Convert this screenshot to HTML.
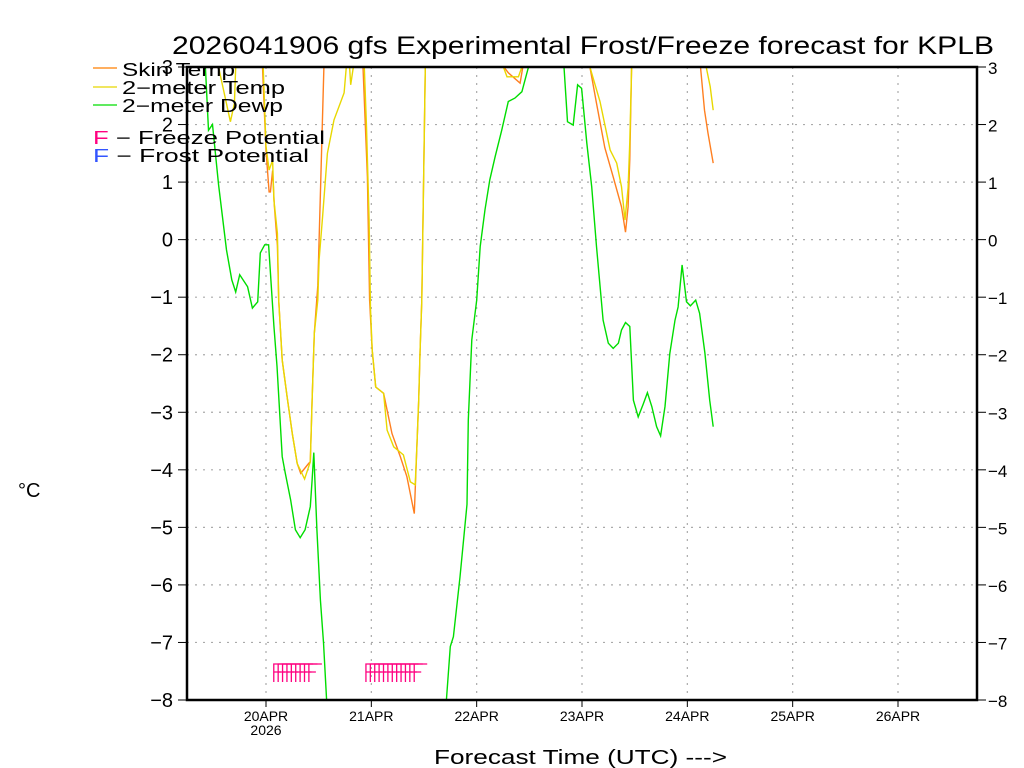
<!DOCTYPE html>
<html><head><meta charset="utf-8"><style>
html,body{margin:0;padding:0;background:#fff;overflow:hidden;width:1024px;height:768px;}
svg{display:block;font-family:"Liberation Sans",sans-serif;}
</style></head><body>
<svg id="chart" width="1024" height="768" viewBox="0 0 1024 768" xmlns="http://www.w3.org/2000/svg">
<defs><clipPath id="plotclip"><rect x="187" y="67" width="790" height="633"/></clipPath></defs>
<text x="172" y="54" font-size="25" textLength="822" lengthAdjust="spacingAndGlyphs">2026041906 gfs Experimental Frost/Freeze forecast for KPLB</text>
<g id="grid"></g>
<g id="series" clip-path="url(#plotclip)"></g>
<g id="freeze"></g>
<g id="axes"></g>
<text x="18" y="497" font-size="20">°C</text>
<text x="434" y="764" font-size="20" textLength="293" lengthAdjust="spacingAndGlyphs">Forecast Time (UTC) ---&gt;</text>
<g font-size="18">
<line x1="93" y1="68" x2="117" y2="68" stroke="#ff7f00" stroke-width="1.3"/>
<text x="122" y="76" textLength="113" lengthAdjust="spacingAndGlyphs">Skin Temp</text>
<line x1="93" y1="87" x2="117" y2="87" stroke="#e8d800" stroke-width="1.3"/>
<text x="122" y="94" textLength="163" lengthAdjust="spacingAndGlyphs">2−meter Temp</text>
<line x1="93" y1="105" x2="117" y2="105" stroke="#00dd00" stroke-width="1.3"/>
<text x="122" y="112" textLength="161" lengthAdjust="spacingAndGlyphs">2−meter Dewp</text>
<text x="93" y="144" textLength="232" lengthAdjust="spacingAndGlyphs"><tspan fill="#ff0080">F</tspan> − Freeze Potential</text>
<text x="93" y="162" textLength="216" lengthAdjust="spacingAndGlyphs"><tspan fill="#3355ff">F</tspan> − Frost Potential</text>
</g>
</svg>
<script>
const yTicks=[3,2,1,0,-1,-2,-3,-4,-5,-6,-7,-8];
const dayLabels=["20APR","21APR","22APR","23APR","24APR","25APR","26APR"];
const dayHours=[24,48,72,96,120,144,168];
const dewHours=[6,9,10.2,10.9,11.8,13.2,15.0,16.2,17.1,18.0,19.8,20.9,22.1,22.7,23.7,24.6,25.8,26.5,27.7,28.4,29.6,30.7,31.8,32.9,34.1,34.5,34.9,35.6,36.4,37.1,37.8,51.2,65.1,66.0,66.7,68.2,69.8,70.1,70.9,72.0,72.8,73.9,75.0,76.2,77.7,79.2,80.7,82.3,83.8,87.8,91.9,92.7,94.0,95.0,95.9,97.1,98.2,99.3,100.8,102.0,103.1,104.3,105.0,105.9,106.9,107.7,108.8,110.0,110.9,111.9,113.0,113.9,114.9,116.0,117.2,117.9,118.8,119.8,120.7,121.9,122.8,124.0,125.1,125.9];
const dewVals=[3.6,3.3,3.0,1.9,2.0,0.95,-0.18,-0.70,-0.91,-0.61,-0.82,-1.19,-1.08,-0.23,-0.09,-0.09,-1.5,-2.2,-3.77,-4.06,-4.52,-5.04,-5.18,-5.04,-4.64,-4.18,-3.70,-5.04,-6.26,-7.0,-8.0,-10.0,-8.0,-7.07,-6.9,-5.86,-4.6,-3.13,-1.74,-1.05,-0.12,0.52,1.04,1.44,1.9,2.4,2.46,2.57,3.0,3.5,3.0,2.05,1.99,2.69,2.63,1.68,0.92,-0.12,-1.40,-1.80,-1.89,-1.80,-1.57,-1.44,-1.51,-2.79,-3.08,-2.85,-2.66,-2.9,-3.25,-3.41,-2.90,-1.98,-1.40,-1.17,-0.44,-1.08,-1.15,-1.05,-1.28,-1.97,-2.79,-3.25];
const t2Hours=[6,13.2,13.7,15.9,16.8,17.1,18.2,23.2,24.0,24.7,25.5,25.8,26.6,26.9,27.7,28.8,30.0,31.1,32.8,34.1,34.5,35.0,35.8,36.1,36.9,38.0,39.5,41.8,42.3,42.8,43.3,44.1,45.5,46.4,46.9,47.5,47.8,48.2,49.0,50.8,51.6,53.1,55.3,56.9,58.0,58.4,58.8,59.1,59.5,60.3,61.4,77.3,78.1,78.9,81.5,82.3,83.0,96.7,97.8,100.1,102.4,103.9,105.0,105.8,106.5,106.9,107.3,108.1,122.9,124.3,125.2,125.9];
const t2Vals=[3.6,3.0,2.82,2.05,2.37,3.0,3.6,3.4,1.62,1.21,1.38,0.69,0.11,-1.05,-2.09,-2.73,-3.37,-3.89,-4.16,-3.86,-2.79,-1.63,-1.05,-0.35,0.4,1.5,2.08,2.55,3.0,3.3,2.69,3.1,3.5,3.0,1.96,0.34,-1.2,-1.92,-2.56,-2.67,-3.31,-3.60,-3.74,-4.21,-4.26,-3.54,-2.79,-1.92,-1.05,3.0,3.8,3.5,3.0,2.83,2.83,3.0,3.5,3.5,3.0,2.4,1.56,1.33,0.92,0.34,0.9,1.7,3.0,3.6,3.6,3.0,2.66,2.25];
const skinHours=[6,22.3,23.2,24.0,24.7,25.0,25.5,25.9,26.6,26.9,27.7,28.8,30.0,31.1,31.9,33.7,34.1,34.5,35.0,35.8,36.4,37.2,37.8,45.5,46.1,47.1,47.6,48.2,49.0,50.8,52.7,54.6,56.1,57.8,58.4,58.8,59.1,59.5,60.3,61.4,77.3,78.2,79.2,81.9,82.5,83.0,96.7,97.8,99.3,101.2,103.1,105.0,105.9,106.5,106.9,107.3,108.1,122.5,123.0,123.9,124.7,125.9];
const skinVals=[4,4,3.0,1.55,0.83,0.83,1.2,0.6,-0.1,-1.05,-2.09,-2.73,-3.37,-3.89,-4.06,-3.89,-3.86,-2.79,-1.63,-0.8,0.8,3.0,3.8,3.8,3.0,1.09,-1.05,-1.92,-2.56,-2.67,-3.37,-3.77,-4.12,-4.76,-3.54,-2.79,-1.92,-1.05,3.0,3.8,3.6,3.0,2.9,2.72,3.0,3.6,3.6,3.0,2.37,1.6,1.09,0.57,0.13,0.57,1.4,3.0,3.6,3.6,3.0,2.25,1.85,1.33];
const freezeHours=[26,27,28,29,30,31,32,33,34,47,48,49,50,51,52,53,54,55,56,57,58];

const NS="http://www.w3.org/2000/svg";
const X0=187,X1=977,Y0=67,Y1=700,T0=6,T1=186,VMAX=3,VMIN=-8;
function xs(t){return X0+(t-T0)*(X1-X0)/(T1-T0);}
function ys(v){return Y0+(VMAX-v)*(Y1-Y0)/(VMAX-VMIN);}
function ysClamp(v){return Math.min(Y1+20,Math.max(Y0-20,ys(v)));}
function mk(tag,attrs,parent){const e=document.createElementNS(NS,tag);for(const k in attrs)e.setAttribute(k,attrs[k]);parent.appendChild(e);return e;}
const grid=document.getElementById('grid'),axes=document.getElementById('axes'),series=document.getElementById('series'),fz=document.getElementById('freeze');
yTicks.forEach(v=>{
  const y=ys(v);
  if(v>VMIN&&v<VMAX){const g=mk('line',{x1:X0,x2:X1,y1:y,y2:y,stroke:'#aaa','stroke-width':1.2,'stroke-dasharray':'2,6'},grid);
  
  }
  mk('line',{x1:X0-9,x2:X0,y1:y,y2:y,stroke:'#000','stroke-width':1},axes);
  mk('line',{x1:X1,x2:X1+9,y1:y,y2:y,stroke:'#000','stroke-width':1},axes);
  const lab=(v<0?'−':'')+Math.abs(v);
  const l=mk('text',{x:X0-14,y:y+7,'font-size':20,'text-anchor':'end'},axes);l.textContent=lab;
  
  
  const r=mk('text',{x:X1+11,y:y+7,'font-size':17},axes);r.textContent=lab;
  
  
});
dayHours.forEach((h,i)=>{
  const x=xs(h);
  const g=mk('line',{x1:x,x2:x,y1:Y0,y2:Y1,stroke:'#aaa','stroke-width':1.2,'stroke-dasharray':'2,6'},grid);
  
  
  mk('line',{x1:x,x2:x,y1:Y1,y2:Y1+7,stroke:'#000','stroke-width':1},axes);
  const t=mk('text',{x:x,y:Y1+21,'font-size':14,'text-anchor':'middle'},axes);t.textContent=dayLabels[i];
  
  
  if(i===0){const yr=mk('text',{x:x,y:Y1+35,'font-size':14,'text-anchor':'middle'},axes);yr.textContent='2026';
  
  }
});
const frame=mk('rect',{x:X0,y:Y0,width:X1-X0,height:Y1-Y0,fill:'none',stroke:'#000','stroke-width':2.5},axes);


function line(hs,vs,color){return mk('polyline',{points:hs.map((h,i)=>xs(h).toFixed(1)+','+ysClamp(vs[i]).toFixed(1)).join(' '),fill:'none',stroke:color,'stroke-width':1.4},series);}
const dl=line(dewHours,dewVals,'#00dd00');


const sl=line(skinHours,skinVals,'#ff7f20');


const tl=line(t2Hours,t2Vals,'#e8d800');


freezeHours.forEach(h=>{
  const x=xs(h)-1,yT=664;
  const g=mk('path',{d:`M${x},${yT+18}V${yT}H${x+13}M${x},${yT+8}H${x+7}`,stroke:'#ff0080','stroke-width':1.3,fill:'none'},fz);
  
  
});
</script>
</body></html>
